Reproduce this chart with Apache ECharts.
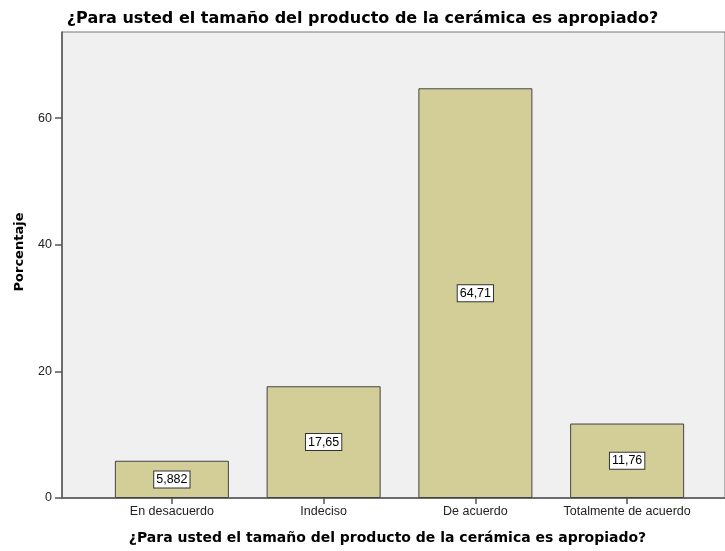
<!DOCTYPE html>
<html>
<head>
<meta charset="utf-8">
<script src="https://cdn.jsdelivr.net/npm/echarts@6/dist/echarts.min.js"></script>
<style>
  html, body { margin: 0; padding: 0; background: #fff; }
  #main { width: 725px; height: 551px; }
</style>
</head>
<body>
<div id="main"></div>
<script>
// 数据
var categories = ['En desacuerdo', 'Indeciso', 'De acuerdo', 'Totalmente de acuerdo'];
var porcentajes = [5.882, 17.65, 64.71, 11.76];
var yTicks = [0, 20, 40, 60];
var yMax = 73.6;

var titulo = '¿Para usted el tamaño del producto de la cerámica es apropiado?';
var fuente = 'Arial, "Liberation Sans", sans-serif';
var fuenteTitulo = '"DejaVu Sans", Arial, sans-serif';

var myChart = echarts.init(document.getElementById('main'));

var option = {
  animation: false,
  title: {
    text: titulo,
    left: 'center',
    top: 6,
    textStyle: { fontSize: 16, fontWeight: 'bold', color: '#000', fontFamily: fuenteTitulo }
  },
  grid: [
    // fondo gris con eje Y
    { left: 62, right: 0, top: 32, bottom: 53, show: true, outerBoundsMode: 'none',
      backgroundColor: '#f0f0f0', borderColor: '#777', borderWidth: 1 },
    // barras
    { left: 96, right: 22, top: 32, bottom: 53, outerBoundsMode: 'none' }
  ],
  xAxis: [
    {
      gridIndex: 0,
      type: 'value',
      min: 0,
      max: 1,
      name: titulo,
      nameLocation: 'middle',
      nameGap: 33,
      nameTextStyle: { fontSize: 14, fontWeight: 'bold', color: '#000', fontFamily: fuenteTitulo,
        padding: [0, 12, 0, 0] },
      axisLine: { show: true, lineStyle: { color: '#555', width: 1.5 } },
      axisTick: { show: false },
      axisLabel: { show: false },
      splitLine: { show: false }
    },
    {
      gridIndex: 1,
      type: 'category',
      data: categories,
      axisLine: { show: false },
      axisTick: { show: true, alignWithLabel: true, length: 6, lineStyle: { color: '#555', width: 1.5 } },
      axisLabel: { interval: 0, fontSize: 12.5, color: '#222', fontFamily: fuente, margin: 7 }
    }
  ],
  yAxis: [
    {
      gridIndex: 0,
      type: 'value',
      min: 0,
      max: yMax,
      interval: 20,
      name: 'Porcentaje',
      nameLocation: 'middle',
      nameGap: 36,
      nameTextStyle: { fontSize: 13, fontWeight: 'bold', color: '#000', fontFamily: fuenteTitulo,
        padding: [0, 0, 0, 26] },
      axisLine: { show: true, lineStyle: { color: '#555', width: 1.5 } },
      axisTick: { show: true, length: 7, customValues: yTicks, lineStyle: { color: '#555', width: 1.5 } },
      axisLabel: { customValues: yTicks, fontSize: 12.5, color: '#222', fontFamily: fuente, margin: 10 },
      splitLine: { show: false }
    },
    {
      gridIndex: 1,
      type: 'value',
      min: 0,
      max: yMax,
      show: false
    }
  ],
  series: [{
    name: 'Porcentaje',
    type: 'bar',
    xAxisIndex: 1,
    yAxisIndex: 1,
    barWidth: 114,
    data: porcentajes,
    itemStyle: { color: '#d3ce97', borderColor: '#444', borderWidth: 1 },
    label: {
      show: true,
      position: 'inside',
      formatter: function (p) { return String(p.value).replace('.', ','); },
      fontSize: 12.5,
      color: '#000',
      fontFamily: fuente,
      backgroundColor: '#fff',
      borderColor: '#333',
      borderWidth: 1,
      padding: [2, 2, 1, 2]
    }
  }]
};

myChart.setOption(option);
</script>
</body>
</html>
